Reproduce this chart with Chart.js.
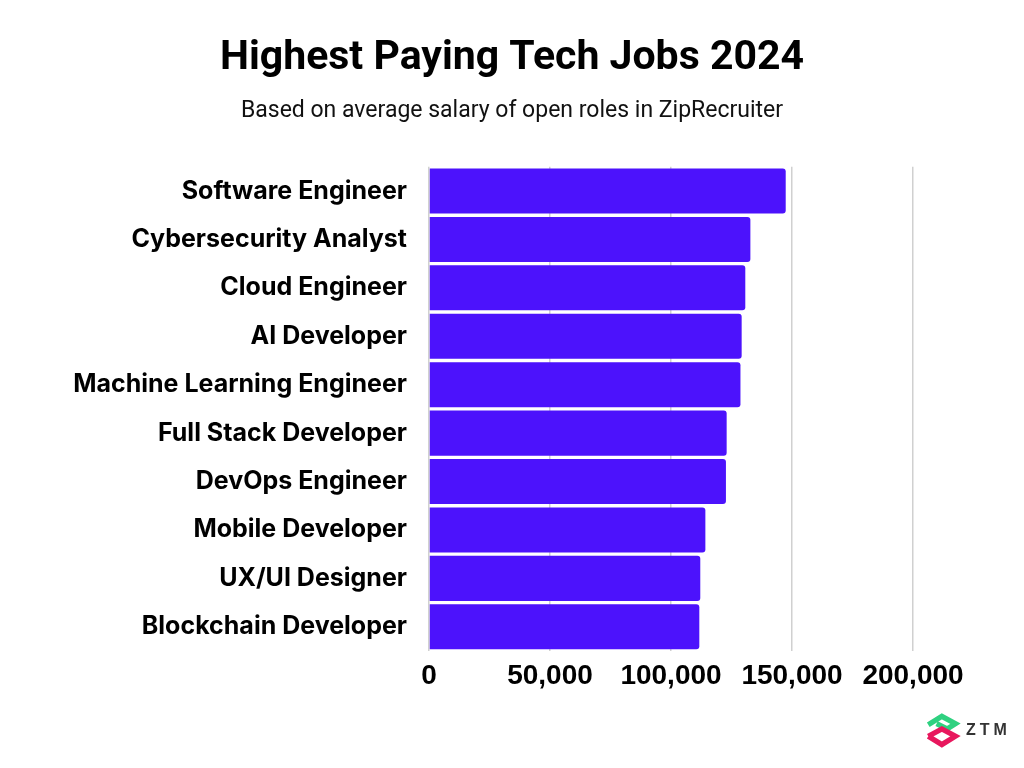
<!DOCTYPE html>
<html>
<head>
<meta charset="utf-8">
<script src="https://cdn.jsdelivr.net/npm/chart.js@4.4.1/dist/chart.umd.min.js"></script>
<style>
  html, body { margin: 0; padding: 0; background: #ffffff; }
  #wrap { position: relative; width: 1024px; height: 768px; overflow: hidden; }
  #logo { position: absolute; left: 922px; top: 710px; width: 46px; height: 42px; }
  #logoText { position: absolute; left: 966px; top: 721px; font-family: "Liberation Sans", Arial, sans-serif; font-weight: bold; font-size: 16px; letter-spacing: 4px; color: #333333; }
</style>
</head>
<body>
<div id="wrap">
  <canvas id="c" width="1024" height="768"></canvas>
  <svg id="logo" viewBox="0 0 44 40">
    <polyline points="6,14 19,6 32,13 24,18 14,13" fill="none" stroke="#2fd180" stroke-width="5" stroke-linejoin="miter"/>
    <polyline points="6,25 19,18 32,25 19,33 6,25" fill="none" stroke="#e8175d" stroke-width="5" stroke-linejoin="miter"/>
  </svg>
  <div id="logoText">ZTM</div>
</div>
<script>
const categories = [
  "Software Engineer",
  "Cybersecurity Analyst",
  "Cloud Engineer",
  "AI Developer",
  "Machine Learning Engineer",
  "Full Stack Developer",
  "DevOps Engineer",
  "Mobile Developer",
  "UX/UI Designer",
  "Blockchain Developer"
];
const salaries = [147400, 132800, 130700, 129200, 128700, 123000, 122700, 114200, 112100, 111700];
const tickValues = [0, 50000, 100000, 150000, 200000];
const chartTitle = "Highest Paying Tech Jobs 2024";
const chartSubtitle = "Based on average salary of open roles in ZipRecruiter";

new Chart(document.getElementById("c"), {
  type: "bar",
  data: {
    labels: categories,
    datasets: [{
      data: salaries,
      backgroundColor: "#4c12fc",
      borderRadius: 3,
      borderSkipped: "start",
      barPercentage: 0.93,
      categoryPercentage: 1.0
    }]
  },
  options: {
    indexAxis: "y",
    responsive: false,
    animation: false,
    devicePixelRatio: 1,
    layout: { padding: { left: 0, right: 0, top: 0, bottom: 57 } },
    plugins: {
      legend: { display: false },
      tooltip: { enabled: false },
      title: {
        display: true,
        text: chartTitle,
        color: "#000000",
        font: { family: "'Roboto', sans-serif", size: 41, weight: "bold" },
        padding: { top: 34, bottom: 12 }
      },
      subtitle: {
        display: true,
        text: chartSubtitle,
        color: "#111111",
        font: { family: "'Roboto', sans-serif", size: 23, weight: "normal" },
        padding: { top: 2, bottom: 42 }
      }
    },
    scales: {
      x: {
        min: 0,
        max: 200000,
        afterBuildTicks: (axis) => { axis.ticks = tickValues.map(v => ({ value: v })); },
        afterFit: (axis) => { axis.height = 60; },
        grid: { color: "#d0d0d0", lineWidth: 1.5, drawTicks: false },
        border: { display: false },
        ticks: {
          color: "#000000",
          padding: 8,
          font: { family: "'Liberation Sans', Arial, sans-serif", size: 28, weight: "bold" },
          callback: (v) => Number(v).toLocaleString("en-US")
        }
      },
      y: {
        afterFit: (axis) => { axis.width = 429; },
        grid: { display: false, drawTicks: false },
        border: { display: false },
        ticks: {
          color: "#000000",
          padding: 22,
          font: { family: "'Inter', sans-serif", size: 25, weight: "bold" }
        }
      },
      yRight: {
        type: "category",
        position: "right",
        afterFit: (axis) => { axis.width = 111; },
        grid: { display: false, drawTicks: false },
        border: { display: false },
        ticks: { display: false }
      }
    }
  }
});
</script>
</body>
</html>
